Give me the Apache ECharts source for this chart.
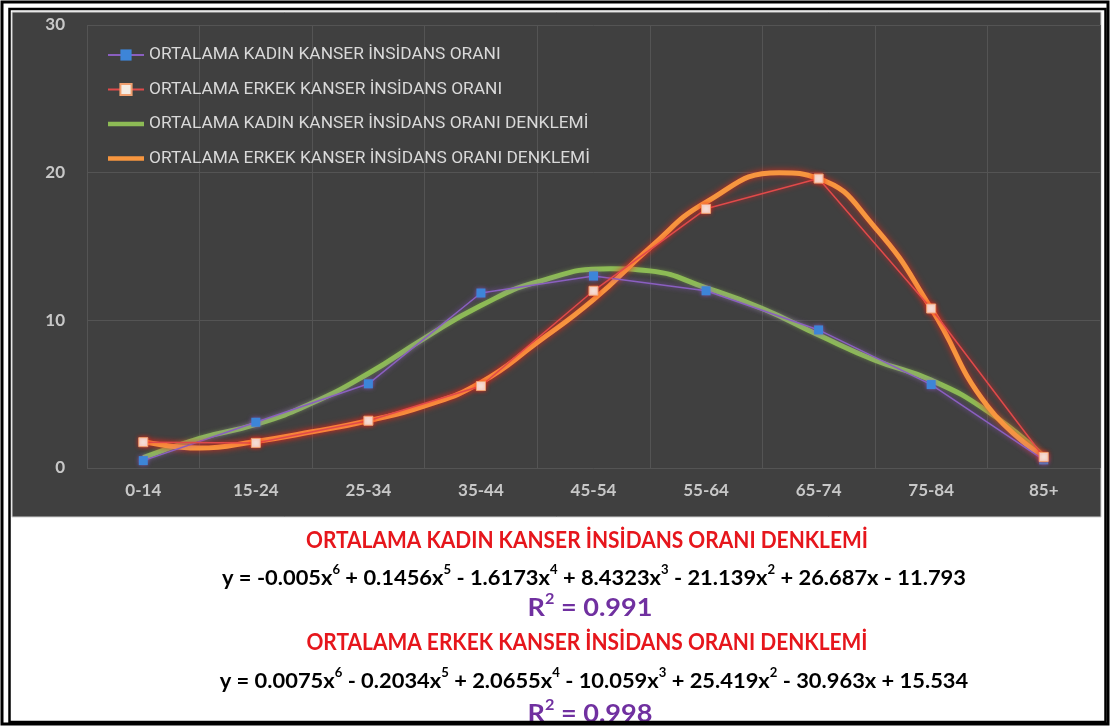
<!DOCTYPE html>
<html><head><meta charset="utf-8">
<script src="https://cdn.jsdelivr.net/npm/echarts@6/dist/echarts.min.js"></script>
<style>html,body{margin:0;padding:0;background:#fff}#c{width:1114px;height:727px}</style>
</head><body><div id="c"></div>
<script>
const categories = ['0-14','15-24','25-34','35-44','45-54','55-64','65-74','75-84','85+'];
const kadin = [0.5, 3.1, 5.7, 11.85, 13.0, 12.0, 9.35, 5.65, 0.55];
const erkek = [1.75, 1.7, 3.2, 5.55, 12.0, 17.55, 19.6, 10.8, 0.75];
const kadinTrendX = [1,1.5,2,2.5,3,3.5,4,4.5,5.15,5.5,6,6.5,7,7.5,8,8.5,9];
const kadinTrendY = [0.7,2.0,2.95,4.4,6.4,8.8,11.0,12.6,13.5,13.35,12.2,10.8,9.0,7.3,5.95,3.85,0.8];
const erkekTrendX = [1,1.5,2,2.5,3,3.5,4,4.5,5,5.5,6,6.65,7,7.5,8,8.5,9];
const erkekTrendY = [1.8,1.35,1.8,2.45,3.2,4.2,5.8,8.5,11.4,14.9,18.0,20.0,19.6,16.3,10.8,4.2,0.77];
const seriesNames = [
  'ORTALAMA KADIN KANSER İNSİDANS ORANI',
  'ORTALAMA ERKEK KANSER İNSİDANS ORANI',
  'ORTALAMA KADIN KANSER İNSİDANS ORANI DENKLEMİ',
  'ORTALAMA ERKEK KANSER İNSİDANS ORANI DENKLEMİ'
];
const eqTitles = ['ORTALAMA KADIN KANSER İNSİDANS ORANI DENKLEMİ','ORTALAMA ERKEK KANSER İNSİDANS ORANI DENKLEMİ'];
const eqParts = [
  [['y = -0.005x','6'],[' + 0.1456x','5'],[' - 1.6173x','4'],[' + 8.4323x','3'],[' - 21.139x','2'],[' + 26.687x - 11.793','']],
  [['y = 0.0075x','6'],[' - 0.2034x','5'],[' + 2.0655x','4'],[' - 10.059x','3'],[' + 25.419x','2'],[' - 30.963x + 15.534','']]
];
const r2 = ['0.991','0.998'];

// ---- font helpers (layout only) ----
const mctx = document.createElement('canvas').getContext('2d');
function hasFont(f){
  const s = 'ORTALAMA KADIN mmmWWiil 0123';
  mctx.font = '72px monospace'; const a = mctx.measureText(s).width;
  mctx.font = '72px "' + f + '", monospace'; const b = mctx.measureText(s).width;
  return a !== b;
}
const LFAM = ['Roboto','Lato'].find(hasFont) || 'Lato';
const LFONT = '"' + LFAM + '", sans-serif';
const BFONT = 'Lato, sans-serif';
function w100(text, weight, font){ mctx.font = weight + ' 100px ' + font; return mctx.measureText(text).width; }
const SUP = 0.6;
function richW(parts, weight, size, font){
  let n = 0, s = 0;
  parts.forEach(p => { n += w100(p[0], weight, font); if (p[1]) s += w100(p[1], weight, font); });
  return (n + SUP * s) * size / 100;
}
function eqRich(parts){
  return parts.map(p => '{n|' + p[0] + '}' + (p[1] ? '{s|' + p[1] + '}' : '')).join('');
}

const legendSize = Math.min(17.5, 100 * 352 / w100(seriesNames[0], 'normal', LFONT));
const titleSize = 23, eqSize = 21, r2Size = 25;
const titleSX = 562 / (w100(eqTitles[0], 'bold', BFONT) * titleSize / 100);
const eqSX = 744 / richW(eqParts[0], 'bold', eqSize, BFONT);
const r2SX = 125 / richW([['R','2'],[' = ' + r2[0], '']], 'bold', r2Size, BFONT);

const chart = echarts.init(document.getElementById('c'), null, {renderer:'canvas'});
const cx = 590;
const graphics = [
  {type:'rect', z:-10, shape:{x:12,y:12,width:1089,height:505}, style:{fill:'#404040', stroke:'#cfcfcf', lineWidth:1}},
  {type:'rect', z:100, shape:{x:2,y:2,width:1106,height:722}, style:{fill:'none', stroke:'#000', lineWidth:3}},
  {type:'rect', z:100, shape:{x:9.5,y:9,width:1096,height:713}, style:{fill:'none', stroke:'#000', lineWidth:2.5}}
];
const ys = [[541,576,606],[643,679,712]];
for (let i=0;i<2;i++){
  graphics.push({type:'text', z:50, x:cx-3, y:ys[i][0], scaleX:titleSX, style:{text:eqTitles[i], fill:'#e6161c', font:'bold ' + titleSize + 'px ' + BFONT, textAlign:'center', textVerticalAlign:'middle'}});
  graphics.push({type:'text', z:50, x:cx+4, y:ys[i][1], scaleX:eqSX, style:{text:eqRich(eqParts[i]), textAlign:'center', textVerticalAlign:'middle',
    rich:{n:{fontSize:eqSize, fontWeight:'bold', fontFamily:BFONT, fill:'#000', verticalAlign:'bottom', lineHeight:eqSize*1.2},
          s:{fontSize:eqSize*SUP, fontWeight:'bold', fontFamily:BFONT, fill:'#000', verticalAlign:'top', lineHeight:eqSize*1.2}}}});
  graphics.push({type:'text', z:50, x:cx, y:ys[i][2], scaleX:r2SX, style:{text:'{r|R}{s|2}{r| = ' + r2[i] + '}', textAlign:'center', textVerticalAlign:'middle',
    rich:{r:{fontSize:r2Size, fontWeight:'bold', fontFamily:BFONT, fill:'#7030a0', verticalAlign:'bottom', lineHeight:r2Size*1.15},
          s:{fontSize:r2Size*SUP, fontWeight:'bold', fontFamily:BFONT, fill:'#7030a0', verticalAlign:'top', lineHeight:r2Size*1.15}}}});
}
const glow = (c,b) => ({shadowColor:c, shadowBlur:b});
const thickIcon = 'path://M0,0L40,0L40,5L0,5Z';
chart.setOption({
  backgroundColor:'#ffffff',
  animation:false,
  graphic: graphics,
  grid:{left:87, right:14, top:25, bottom:259},
  legend:{
    orient:'vertical', left:102, top:40, itemGap:14.5, itemWidth:36, itemHeight:14,
    data: [
      {name:seriesNames[0]},
      {name:seriesNames[1]},
      {name:seriesNames[2], icon:thickIcon},
      {name:seriesNames[3], icon:thickIcon}
    ],
    textStyle:{color:'#d9d9d9', fontSize:legendSize, fontFamily:LFONT, lineHeight:20}
  },
  xAxis:[
    {type:'category', data:categories, boundaryGap:true,
     axisLine:{show:false}, axisTick:{show:false},
     axisLabel:{color:'#c8c8c8', fontSize:17, fontWeight:'bold', fontFamily:'Lato, sans-serif', margin:14},
     splitLine:{show:true, lineStyle:{color:'#545454', width:1}}},
    {type:'value', min:0.5, max:9.5, show:false, splitLine:{show:false}}
  ],
  yAxis:{type:'value', min:0, max:30, interval:10,
     axisLine:{show:false}, axisTick:{show:false},
     axisLabel:{color:'#c8c8c8', fontSize:17, fontWeight:'bold', fontFamily:'Lato, sans-serif', margin:22},
     splitLine:{lineStyle:{color:'#545454', width:1}}},
  series:[
    {name:seriesNames[2], type:'line', xAxisIndex:1, data:kadinTrendX.map((x,i)=>[x,kadinTrendY[i]]), smooth:0.5, symbol:'none', z:3,
     lineStyle:{color:'#8dbb55', width:5, ...glow('rgba(140,190,80,0.5)',4)}, itemStyle:{color:'#8dbb55'}},
    {name:seriesNames[3], type:'line', xAxisIndex:1, data:erkekTrendX.map((x,i)=>[x,erkekTrendY[i]]), smooth:0.5, symbol:'none', z:3,
     lineStyle:{color:'#f7963f', width:5, ...glow('rgba(255,40,20,0.8)',6)}, itemStyle:{color:'#f7963f'}},
    {name:seriesNames[0], type:'line', data:kadin, symbol:'rect', symbolSize:9, z:4,
     lineStyle:{color:'#8a5fc0', width:1.5, ...glow('rgba(150,90,220,0.8)',5)},
     itemStyle:{color:'#3d85d8', ...glow('rgba(150,90,220,0.7)',4)}},
    {name:seriesNames[1], type:'line', data:erkek, symbol:'rect', symbolSize:9, z:4,
     lineStyle:{color:'#e04a4a', width:1.5, ...glow('rgba(255,30,30,0.8)',5)},
     itemStyle:{color:'#f4ece4', borderColor:'#f0a070', borderWidth:1, ...glow('rgba(255,40,20,0.7)',4)}}
  ]
});
</script></body></html>
